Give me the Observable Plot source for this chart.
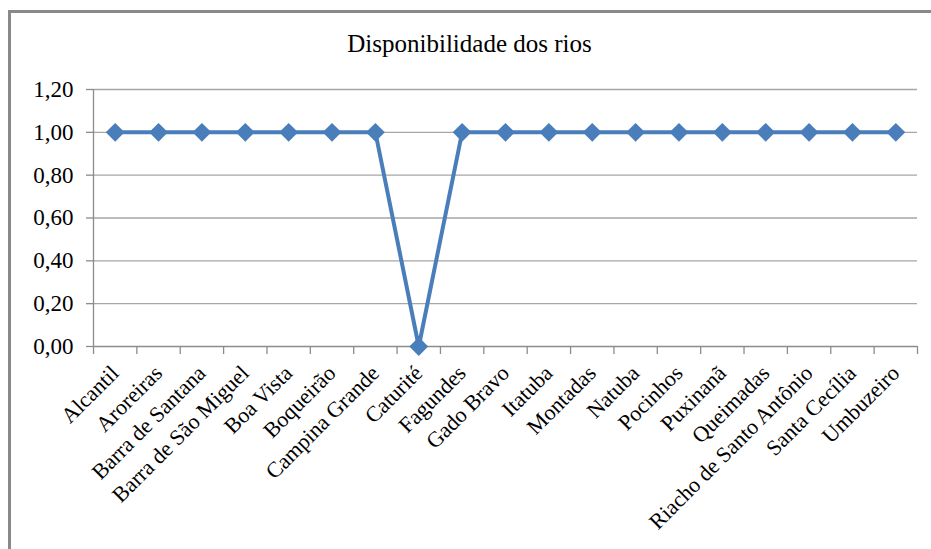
<!DOCTYPE html>
<html>
<head>
<meta charset="utf-8">
<script src="https://cdn.jsdelivr.net/npm/d3@7"></script>
<script src="https://cdn.jsdelivr.net/npm/@observablehq/plot@0.6"></script>
<style>
  html, body { margin: 0; padding: 0; background: #fff; overflow: hidden; }
  body { width: 931px; height: 549px; position: relative; font-family: 'Liberation Serif', 'Times New Roman', serif; }
  #frame { position: absolute; left: 8px; top: 10px; width: 923px; height: 539px; border-left: 3px solid #898989; border-top: 3px solid #898989; box-sizing: border-box; }
  #title { position: absolute; top: 30px; left: 8px; width: 923px; text-align: center; font-size: 25px; color: #000; font-family: 'Liberation Serif', 'Times New Roman', serif; }
  #chart { position: absolute; left: 0; top: 70px; width: 931px; height: 479px; overflow: hidden; }
</style>
</head>
<body>
<div id="frame"></div>
<div id="title">Disponibilidade dos rios</div>
<div id="chart"></div>
<script>
const categories = ["Alcantil","Aroreiras","Barra de Santana","Barra de São Miguel","Boa Vista","Boqueirão","Campina Grande","Caturité","Fagundes","Gado Bravo","Itatuba","Montadas","Natuba","Pocinhos","Puxinanã","Queimadas","Riacho de Santo Antônio","Santa Cecília","Umbuzeiro"];
const values = [1,1,1,1,1,1,1,0,1,1,1,1,1,1,1,1,1,1,1];
const yTicks = [0, 0.2, 0.4, 0.6, 0.8, 1.0, 1.2];

const data = categories.map((c, i) => ({i, name: c, v: values[i]}));
const idx = d3.range(categories.length);
const bounds = d3.range(categories.length + 1).map(k => k - 0.5);
const fmt = d => d.toFixed(2).replace(".", ",");
const blue = "#4A7EBB";
const axisGray = "#8c8c8c";
const serif = "'Liberation Serif', 'Times New Roman', serif";

const plot = Plot.plot({
  width: 931,
  height: 479,
  marginLeft: 93,
  marginRight: 14,
  marginTop: 19,
  marginBottom: 203,
  style: {fontFamily: serif, background: "transparent", color: "#000"},
  x: {type: "linear", domain: [-0.5, categories.length - 0.5], axis: null, label: null},
  y: {domain: [0, 1.2], axis: null, label: null},
  marks: [
    Plot.ruleY(yTicks.filter(d => d > 0), {stroke: "#a6a6a6", strokeWidth: 1.3}),
    Plot.ruleY([0], {stroke: axisGray, strokeWidth: 1.3}),
    Plot.ruleX([bounds[0]], {y1: 0, y2: 1.2, stroke: axisGray, strokeWidth: 1.3}),
    Plot.axisY({ticks: yTicks, tickSize: 7, tickPadding: 13, tickFormat: fmt, fontSize: 23, label: null, stroke: axisGray, strokeWidth: 1.3, fill: "#000", fontFamily: serif}),
    Plot.axisX({ticks: bounds, tickSize: 8, tickFormat: () => "", label: null, stroke: axisGray, strokeWidth: 1.3}),
    Plot.axisX({ticks: idx, tickSize: 0, tickPadding: 23, tickRotate: -45, tickFormat: i => categories[i], label: null, fontSize: 22, fill: "#000", fontFamily: serif}),
    Plot.line(data, {x: "i", y: "v", stroke: blue, strokeWidth: 4}),
    Plot.dot(data, {x: "i", y: "v", symbol: "diamond2", r: 8.5, fill: blue, stroke: "none"})
  ]
});
document.getElementById("chart").appendChild(plot);
</script>
</body>
</html>
